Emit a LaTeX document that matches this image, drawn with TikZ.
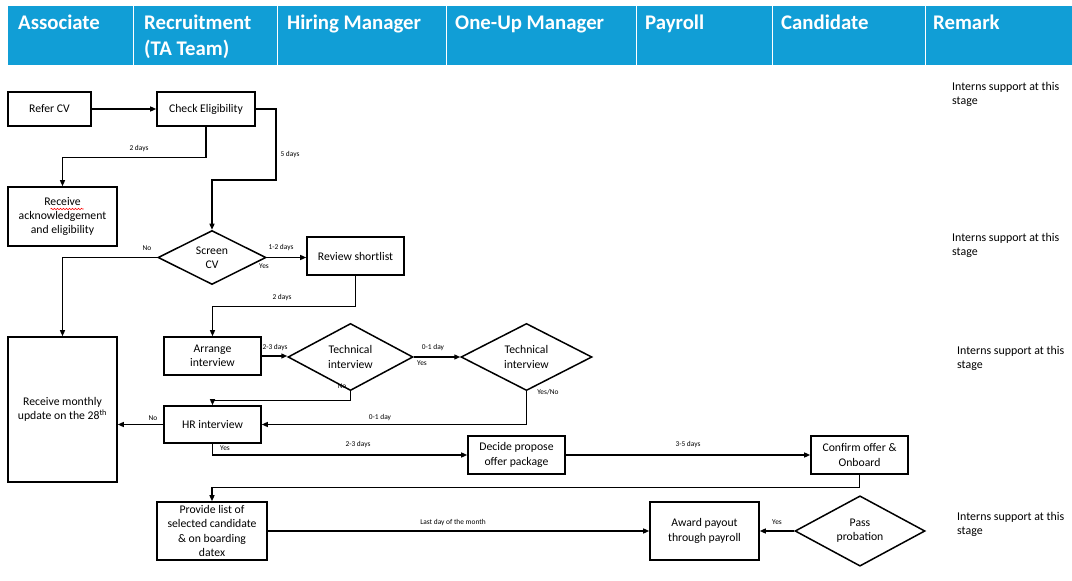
\documentclass[tikz,border=0pt]{standalone}
\usepackage{fontspec}
\setmainfont{Carlito}
\usetikzlibrary{arrows.meta,shapes.geometric,decorations.pathmorphing}
\definecolor{headblue}{RGB}{17,158,214}
\begin{document}
\begin{tikzpicture}[x=1pt,y=-1pt,
  box/.style={draw,line width=1.6pt,align=center,inner sep=1pt,
    font=\fontsize{11.7}{14.3}\selectfont},
  dia/.style={draw,diamond,line width=1.5pt,align=center,inner sep=0pt,
    font=\fontsize{11.7}{14.3}\selectfont},
  flow/.style={line width=1.3pt,-{Triangle[length=6pt,width=5pt]}},
  tag/.style={font=\fontsize{7.4}{8}\selectfont,inner sep=0pt},
  remark/.style={anchor=north west,align=left,inner sep=0pt,
    font=\fontsize{11.9}{14}\selectfont},
  head/.style={anchor=base west,align=left,inner sep=0pt,text=white,
    font=\fontsize{20.8}{26}\selectfont\bfseries},
  squiggle/.style={red,line width=0.6pt,decorate,
    decoration={snake,amplitude=0.7pt,segment length=3pt}},
]
\useasboundingbox (0,0) rectangle (1072,581);

% lane header band
\fill[headblue] (8,6) rectangle (1072,65);
\foreach \x in {133,277,446,636,772,925}
  \draw[white,line width=1pt] (\x,6) -- (\x,65);
\node[head] (hAssoc) at (18,29) {Associate};
% two-line title: base anchor sits on the last line
\node[head] (hRecr) at (144,55) {Recruitment\\(TA Team)};
\node[head] (hHire) at (287,29) {Hiring Manager};
\node[head] (hOneUp) at (455,29) {One-Up Manager};
\node[head] (hPay) at (645,29) {Payroll};
\node[head] (hCand) at (781,29) {Candidate};
\node[head] (hRem) at (933,29) {Remark};

% process steps
\node[box,minimum width=83,minimum height=34] (refer) at (49.5,109) {Refer CV};
\node[box,minimum width=98,minimum height=34] (check) at (206,109) {Check Eligibility};
\node[box,minimum width=109,minimum height=59] (ack) at (62.5,216.5)
  {Receive\\acknowledgement\\and eligibility};
\node[dia,minimum width=108,minimum height=45] (screen) at (212,257.5) {Screen\\CV};
\node[box,minimum width=97,minimum height=38] (review) at (355.5,256) {Review shortlist};
\node[box,minimum width=109,minimum height=145] (monthly) at (62.5,409.5)
  {Receive monthly\\update on the 28\textsuperscript{th}};
\node[box,minimum width=97,minimum height=38] (arrange) at (212.5,356) {Arrange\\interview};
\node[dia,minimum width=125,minimum height=60] (tech1) at (350.5,357) {Technical\\interview};
\node[dia,minimum width=131,minimum height=60] (tech2) at (526.5,357) {Technical\\interview};
\node[box,minimum width=97,minimum height=37] (hr) at (212.5,424.5) {HR interview};
\node[box,minimum width=97,minimum height=38] (decide) at (516.5,455) {Decide propose\\offer package};
\node[box,minimum width=97,minimum height=38] (confirm) at (859.5,455) {Confirm offer \&\\Onboard};
\node[box,minimum width=110,minimum height=58] (provide) at (212,531)
  {Provide list of\\selected candidate\\\& on boarding\\datex};
\node[box,minimum width=109,minimum height=58] (award) at (704.5,531) {Award payout\\through payroll};
\node[dia,minimum width=130,minimum height=58] (pass) at (860,531) {Pass\\probation};

% spell-check mark under "Receive"
\draw[squiggle] ([shift={(-12,-7.5)}]ack.center) -- ++(33,0);

% connectors
\draw[flow] (refer) -- (check);
\draw[flow] (check.south) -- ++(0,31) -| (ack.north);
\draw[flow] (check.east) -| (276,180) -| (screen.north);
\draw[flow] (screen.east) -- (screen.east -| review.west);
\draw[flow] (review.south) -- ++(0,31) -| (arrange.north);
\draw[flow] (screen.west) -| (monthly.north);
\draw[flow] (arrange.east) -- (arrange.east -| tech1.west);
\draw[flow] (tech1.east) -- (tech2.west);
\draw[flow] (tech1.south) -- ++(0,9) -| (hr.north);
\draw[flow] (tech2.south) |- (hr.east);
\draw[flow] (hr.west) -- (hr.west -| monthly.east);
\draw[flow] (hr.south) |- (decide.west);
\draw[flow] (decide) -- (confirm);
\draw[flow] (confirm.south) -- ++(0,13) -| (provide.north);
\draw[flow] (provide) -- (award);
\draw[flow] (pass) -- (award);

% connector labels
\node[tag] (t1) at (139,149) {2 days};
\node[tag] (t2) at (290,155) {5 days};
\node[tag] (t3) at (147,248) {No};
\node[tag] (t4) at (281,248) {1-2 days};
\node[tag] (t5) at (264,266) {Yes};
\node[tag] (t6) at (282,298) {2 days};
\node[tag] (t7) at (275,348) {2-3 days};
\node[tag] (t8) at (433,348) {0-1 day};
\node[tag] (t9) at (422,363) {Yes};
\node[tag] (t10) at (342,386) {No};
\node[tag] (t11) at (548,392) {Yes/No};
\node[tag] (t12) at (380,418) {0-1 day};
\node[tag] (t13) at (153,418) {No};
\node[tag] (t14) at (225,448) {Yes};
\node[tag] (t15) at (358,445) {2-3 days};
\node[tag] (t16) at (688,445) {3-5 days};
\node[tag] (t17) at (453,523) {Last day of the month};
\node[tag] (t18) at (777,522) {Yes};

% remarks column
\node[remark] (r1) at (952,81.8) {Interns support at this\\stage};
\node[remark] (r2) at (952,233.5) {Interns support at this\\stage};
\node[remark] (r3) at (957,345.8) {Interns support at this\\stage};
\node[remark] (r4) at (957,511.8) {Interns support at this\\stage};
\end{tikzpicture}
\end{document}
